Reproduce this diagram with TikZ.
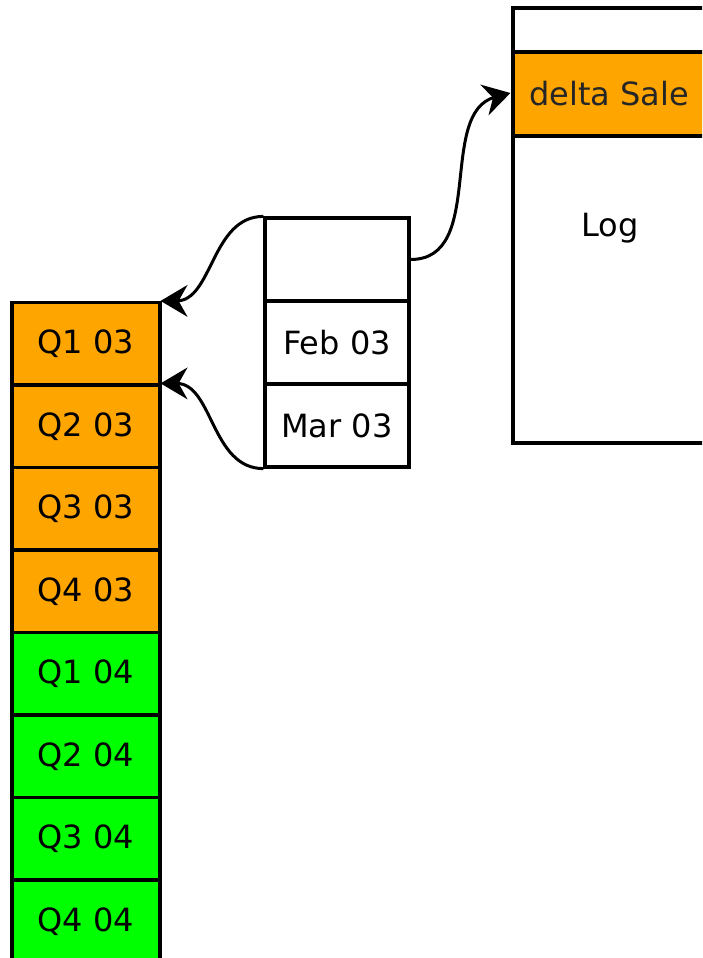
\documentclass[tikz,border=0pt]{standalone}
\usepackage{fontspec}
\setmainfont{DejaVu Sans}
\definecolor{qorange}{RGB}{255,165,0}
\definecolor{qgreen}{RGB}{0,255,0}
\tikzset{
  cell/.style={draw=black,line width=3.2pt,rectangle,inner sep=0pt,font=\fontsize{32}{36}\selectfont},
  qcell/.style={cell,minimum width=148pt,minimum height=82.5pt},
  mcell/.style={cell,minimum width=144pt,minimum height=83pt,fill=white},
  link/.style={line width=3pt,shorten >=16pt}
}
% arrow head: tip at #1, body extending towards angle #2 (screen)
\newcommand\headat[2]{\fill[black,shift={(#1)},rotate=#2]
  (0,0) -- (27,-16) .. controls (22,-8) .. (18,0) .. controls (22,8) .. (27,16) -- cycle;}
\begin{document}
\begin{tikzpicture}[x=1pt,y=-1pt]
\useasboundingbox (0,0) rectangle (702,958);
\clip (0,0) rectangle (702,958);
% left column
\foreach \n/\t/\c [count=\i from 0] in {q1/Q1 03/qorange,q2/Q2 03/qorange,q3/Q3 03/qorange,q4/Q4 03/qorange,q5/Q1 04/qgreen,q6/Q2 04/qgreen,q7/Q3 04/qgreen,q8/Q4 04/qgreen}
  \node[qcell,fill=\c] (\n) at (86,{302.5+82.5*\i+41.25}) {\t};
% middle box
\node[mcell] (m1) at (337,259.5) {};
\node[mcell] (m2) at (337,342.5) {Feb 03};
\node[mcell] (m3) at (337,425.5) {Mar 03};
% log box
\node[cell,minimum width=192pt,minimum height=435pt] (log) at (609,225.5) {};
\node[cell,fill=qorange,minimum width=192pt,minimum height=84pt,text=black!85] (delta) at (609,94) {delta Sale};
\node[font=\fontsize{32}{36}\selectfont] (logt) at (610,228) {Log};
% connector ends
\coordinate (t1) at ([xshift=-1pt]q1.north east);
\coordinate (t2) at ([xshift=-1pt]q2.north east);
\coordinate (t3) at ([xshift=-1pt,yshift=1pt]delta.west);
% connectors
\draw[link] (m1.north west) to[out=180,in=0] (t1);
\draw[link] (m3.south west) to[out=180,in=0] (t2);
\draw[link] (m1.east) to[out=0,in=195] (t3);
\headat{t1}{0}
\headat{t2}{0}
\headat{t3}{195}
\end{tikzpicture}
\end{document}
